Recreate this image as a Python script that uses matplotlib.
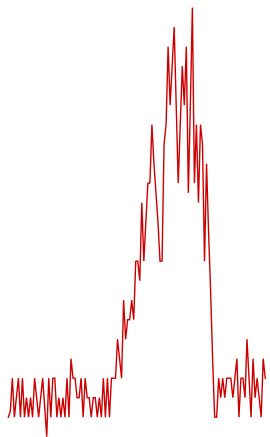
import matplotlib
matplotlib.use("Agg")
import matplotlib.pyplot as plt
import numpy as np

# Series values (one reading per sample, in level units)
values = [
    1, 1.3, 3, 1, 2, 3, 1, 3, 1, 2,
    1, 2, 1, 3, 2, 1, 2, 3, 1.5, 0,
    3, 1, 3, 3, 1, 2, 1, 2, 1, 3,
    1, 4, 3, 3, 2, 2, 3, 1, 3, 2,
    2, 1, 2, 2, 1, 2, 1, 3, 1, 3,
    1, 3, 3, 3, 5, 4, 3, 7, 5, 6,
    6, 7, 6, 9, 9, 8, 12, 9, 11, 13,
    13, 16, 14, 12.5, 11, 9, 9, 15, 16, 20,
    17, 19, 21, 17, 13, 16, 19, 17, 20, 12.5,
    17, 22, 13, 16, 12, 16, 15, 9, 14, 10.5,
    7.5, 4, 1, 1, 3, 2, 3, 2, 3, 3,
    3, 2, 3, 4, 1, 3, 3, 2, 5, 3,
    1, 4, 2, 3, 2, 1, 4, 3,
]
index = list(range(len(values)))

fig = plt.figure(figsize=(2.70, 4.37), dpi=100)
fig.patch.set_facecolor("white")
ax = fig.add_axes([0, 0, 1, 1])
ax.plot(index, values, color="#cc0000", linewidth=1.0, solid_joinstyle="miter")
ax.set_xlim(-4.10, 129.37)
ax.set_ylim(-0.015, 22.39)
ax.axis("off")
fig.savefig("out.png", dpi=100, facecolor="white")
